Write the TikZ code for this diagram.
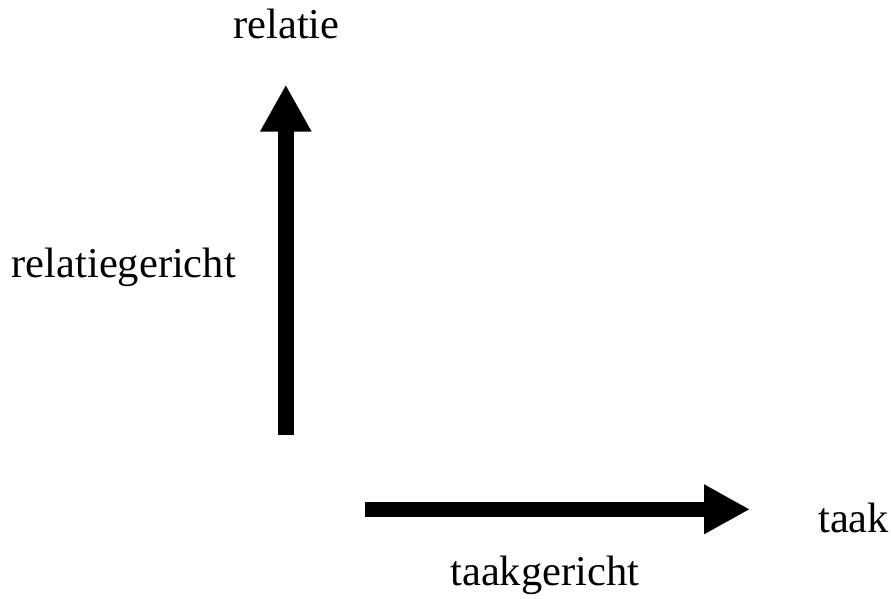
\documentclass[tikz,border=0pt]{standalone}
\usepackage{fontspec}
\setmainfont{Liberation Serif}
\usetikzlibrary{arrows.meta}
\tikzset{
  lbl/.style={inner sep=0pt, outer sep=0pt, font=\fontsize{42.5}{50}\selectfont},
  bigarrow/.style={draw=black, line cap=butt, -{Triangle[length=47pt,width=48pt]}}
}
\begin{document}
\begin{tikzpicture}[x=1pt,y=-1pt]
\useasboundingbox (0,0) rectangle (891,598);
\coordinate (vs) at (285.8,435);
\coordinate (ve) at (285.8,84.6);
\coordinate (hs) at (365.4,509.3);
\coordinate (he) at (750,509.3);
\draw[bigarrow, line width=16.5pt] (vs) -- (ve);
\draw[bigarrow, line width=14.5pt, -{Triangle[length=46pt,width=46.5pt]}] (hs) -- (he);
\node[lbl, anchor=base] (rel) at (286.5,38.3) {relatie};
\node[lbl, anchor=base west] (relg) at (11.7,277.7) {relatiegericht};
\node[lbl, anchor=base west] (taak) at (818.3,532) {taak};
\node[lbl, anchor=base] (taakg) at (544.8,585) {taakgericht};
\end{tikzpicture}
\end{document}
